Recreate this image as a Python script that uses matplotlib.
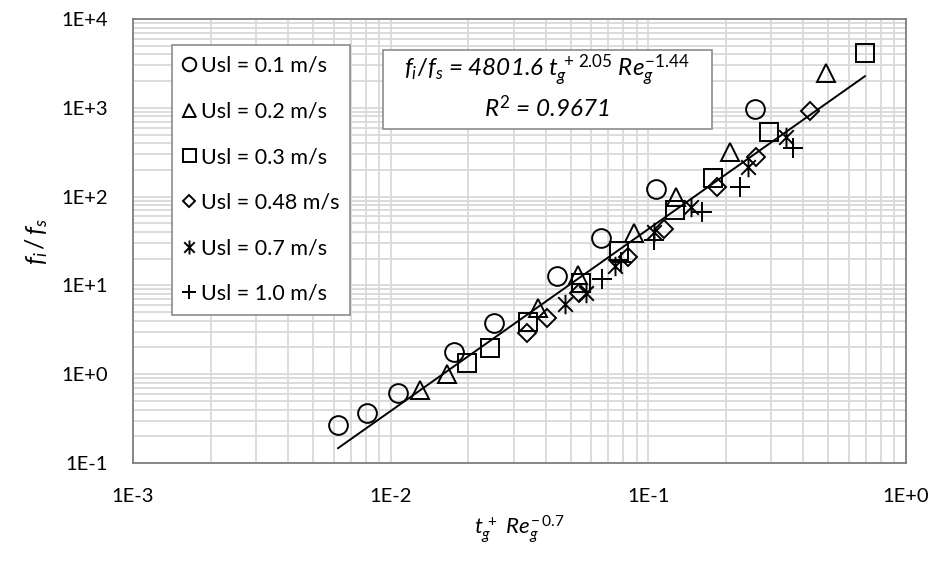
import matplotlib
matplotlib.use("Agg")
import matplotlib.pyplot as plt
from matplotlib.patches import Rectangle
from matplotlib.path import Path

plt.rcParams['font.family'] = ['Lato', 'DejaVu Sans']
plt.rcParams['mathtext.fontset'] = 'custom'
plt.rcParams['mathtext.it'] = 'Lato:italic'
plt.rcParams['mathtext.rm'] = 'Lato'
plt.rcParams['mathtext.default'] = 'it'

# data (x = tg+ Reg^-0.7, y = fi/fs)
x_01 = [0.00625, 0.00809, 0.01067, 0.01763, 0.0252, 0.0441, 0.0655, 0.107, 0.260]
y_01 = [0.268, 0.366, 0.614, 1.78, 3.77, 12.8, 34.2, 122, 969]

x_02 = [0.0130, 0.01654, 0.0373, 0.0533, 0.0879, 0.128, 0.207, 0.489]
y_02 = [0.664, 1.01, 5.57, 13.1, 38.9, 99, 318, 2466]

x_03 = [0.01977, 0.0243, 0.0341, 0.0547, 0.0769, 0.1268, 0.178, 0.294, 0.693]
y_03 = [1.34, 1.97, 3.87, 10.6, 24.4, 70.6, 162, 534, 4143]

x_048 = [0.0338, 0.0404, 0.0538, 0.0834, 0.115, 0.1845, 0.262, 0.424]
y_048 = [2.91, 4.30, 8.21, 20.9, 43.2, 128, 279, 920]

x_07 = [0.0474, 0.0573, 0.0741, 0.105, 0.146, 0.2435, 0.342]
y_07 = [6.18, 8.21, 16.5, 39.9, 76.4, 215, 469]

x_10 = [0.0661, 0.0783, 0.105, 0.1614, 0.2267, 0.364]
y_10 = [11.8, 18.3, 32.5, 67.1, 128, 353]

# power-law trendline end points
fit_x = [0.00625, 0.693]
fit_y = [0.147, 2270]

x_ticks = [1e-3, 1e-2, 1e-1, 1e0]
x_labels = ['1E-3', '1E-2', '1E-1', '1E+0']
y_ticks = [1e-1, 1e0, 1e1, 1e2, 1e3, 1e4]
y_labels = ['1E-1', '1E+0', '1E+1', '1E+2', '1E+3', '1E+4']

# excel style asterisk: X with a vertical bar
star = Path([(0, -1), (0, 1), (-0.75, -0.75), (0.75, 0.75), (-0.75, 0.75), (0.75, -0.75)],
            [Path.MOVETO, Path.LINETO] * 3)

W, H = 936, 561
fig = plt.figure(figsize=(W / 100, H / 100), dpi=100)
ax = fig.add_axes([133 / W, 1 - 463 / H, 773 / W, 444 / H])
ax.set_xscale('log')
ax.set_yscale('log')
ax.set_xlim(1e-3, 1)
ax.set_ylim(1e-1, 1e4)

ax.grid(True, which='both', color='#d9d9d9', lw=1.3)
ax.set_axisbelow(True)
for s in ax.spines.values():
    s.set_color('#7f7f7f')
    s.set_linewidth(1.3)

ax.set_xticks(x_ticks, x_labels)
ax.set_yticks(y_ticks, y_labels)
ax.tick_params(which='both', length=0)
ax.tick_params(axis='x', pad=18, labelsize=14.5)
ax.tick_params(axis='y', pad=18, labelsize=14.5)

mk = dict(ls='none', mfc='none', mec='black', mew=1.4)
ax.plot(x_01, y_01, marker='o', ms=13.5, label='Usl = 0.1 m/s', **mk)
ax.plot(x_02, y_02, marker='^', ms=13, label='Usl = 0.2 m/s', **mk)
ax.plot(x_03, y_03, marker='s', ms=13, label='Usl = 0.3 m/s', **mk)
ax.plot(x_048, y_048, marker='D', ms=9, label='Usl = 0.48 m/s', **mk)
ax.plot(x_07, y_07, marker=star, ms=14, label='Usl = 0.7 m/s', **mk)
ax.plot(x_10, y_10, marker='+', ms=14, label='Usl = 1.0 m/s', **mk)
ax.plot(fit_x, fit_y, color='black', lw=1.4)

ax.set_xlabel(r'$t_g^{\,+}\ Re_g^{-\,0.7}$', fontsize=16, labelpad=6)
ax.set_ylabel(r'$f_i\,/\,f_s$', fontsize=18, labelpad=8)

leg = ax.legend(loc='upper left', bbox_to_anchor=(172 / W, 1 - 45 / H),
                bbox_transform=fig.transFigure, fontsize=15.5,
                markerscale=0.72, handlelength=0.6, handletextpad=0.25,
                labelspacing=1.19, borderpad=0.5, borderaxespad=0,
                fancybox=False, framealpha=1, edgecolor='#8c8c8c')
leg.get_frame().set_linewidth(1.2)

fig.patches.append(Rectangle((383 / W, 1 - 129 / H), 329 / W, 79 / H,
                             transform=fig.transFigure, facecolor='white',
                             edgecolor='#8c8c8c', lw=1.2, zorder=5))
fig.text(547 / W, 1 - 70 / H,
         r'$f_i/f_s$ = 4801.6 $t_g^{\,+\,2.05}$ $Re_g^{-1.44}$',
         style='italic', fontsize=17.5, ha='center', va='center', zorder=6)
fig.text(547 / W, 1 - 108 / H, r'$R^2$ = 0.9671', style='italic',
         fontsize=17.5, ha='center', va='center', zorder=6)

fig.savefig('out.png', dpi=100)
